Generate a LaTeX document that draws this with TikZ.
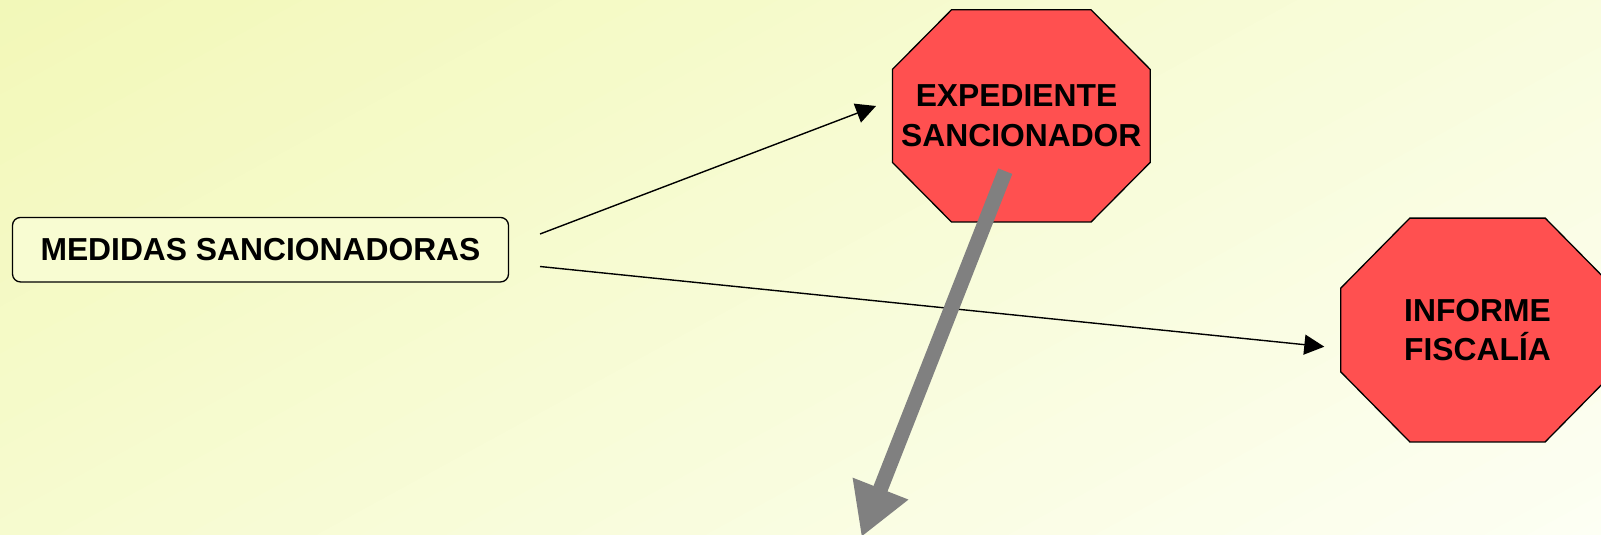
\documentclass[tikz,border=0pt]{standalone}
\usepackage{fontspec}
\setmainfont{Liberation Sans}
\usetikzlibrary{arrows.meta}
\definecolor{bgA}{RGB}{242,248,184}
\definecolor{bgB}{RGB}{253,255,244}
\definecolor{boxfill}{RGB}{248,252,210}
\definecolor{stopred}{RGB}{255,80,80}
\definecolor{arrowgray}{RGB}{128,128,128}
\tikzset{
  lbl/.style={font=\fontsize{31.8}{39.5}\selectfont\bfseries, align=center, text=black},
  medbox/.style={lbl, draw=black, line width=1.3pt, fill=boxfill, rounded corners=8pt,
    minimum width=496pt, minimum height=64.5pt, inner sep=0pt},
  octaframe/.style={rectangle, draw=none, inner sep=0pt},
  octafill/.style={draw=black, line width=1.3pt, fill=stopred, line join=miter},
  thinarrow/.style={draw=black, line width=1.4pt, -{Triangle[length=20pt,width=20pt]}},
  grayarrow/.style={draw=arrowgray, line width=15pt, -{Triangle[length=52pt,width=56pt]}}
}
\newcommand\octagonof[3]{%
  \filldraw[octafill] ([xshift=#2]#1.north west) -- ([xshift=-#2]#1.north east)
    -- ([yshift=-#3]#1.north east) -- ([yshift=#3]#1.south east)
    -- ([xshift=-#2]#1.south east) -- ([xshift=#2]#1.south west)
    -- ([yshift=#3]#1.south west) -- ([yshift=-#3]#1.north west) -- cycle;}
\begin{document}
\begin{tikzpicture}[x=1pt,y=-1pt]
\useasboundingbox (0,0) rectangle (1601,535);
% background: diagonal gradient drawn as bands
\begin{scope}
  \clip (0,0) rectangle (1601,535);
  \foreach \i in {0,...,59}{
    \pgfmathsetmacro\sa{\i*20.65}
    \pgfmathsetmacro\sb{\i*20.65+22.15}
    \pgfmathtruncatemacro\p{round((\i+0.5)*1.6667)}
    \fill[bgB!\p!bgA]
      ({0.48*\sa-0.88*300},{0.88*\sa+0.48*300}) --
      ({0.48*\sa+0.88*1450},{0.88*\sa-0.48*1450}) --
      ({0.48*\sb+0.88*1450},{0.88*\sb-0.48*1450}) --
      ({0.48*\sb-0.88*300},{0.88*\sb+0.48*300}) -- cycle;
  }
\end{scope}
\node[medbox] (med) at (260.5,249.7) {MEDIDAS SANCIONADORAS};
\node[octaframe, minimum width=257.3pt, minimum height=211.7pt] (exp) at (1021.3,115.9) {};
\octagonof{exp}{59pt}{59.5pt}
\node[lbl] (expt) at (exp.center) {EXPEDIENTE\rule{9.6pt}{0pt}\\SANCIONADOR};
\node[octaframe, minimum width=273pt, minimum height=223.4pt] (inf) at (1477.5,330) {};
\octagonof{inf}{69pt}{70pt}
\node[lbl] (inft) at (inf.center) {INFORME\\FISCALÍA};
\coordinate (gend) at (861.5,537);
\draw[thinarrow] ([shift={(279.5,-15.7)}]med.center) -- ([shift={(-145.3,-9.9)}]exp.center);
\draw[thinarrow] ([shift={(279.5,16.8)}]med.center) -- ([shift={(-153.2,16.7)}]inf.center);
\draw[grayarrow] ([shift={(-16,55.3)}]exp.center) -- (gend);
\end{tikzpicture}
\end{document}
